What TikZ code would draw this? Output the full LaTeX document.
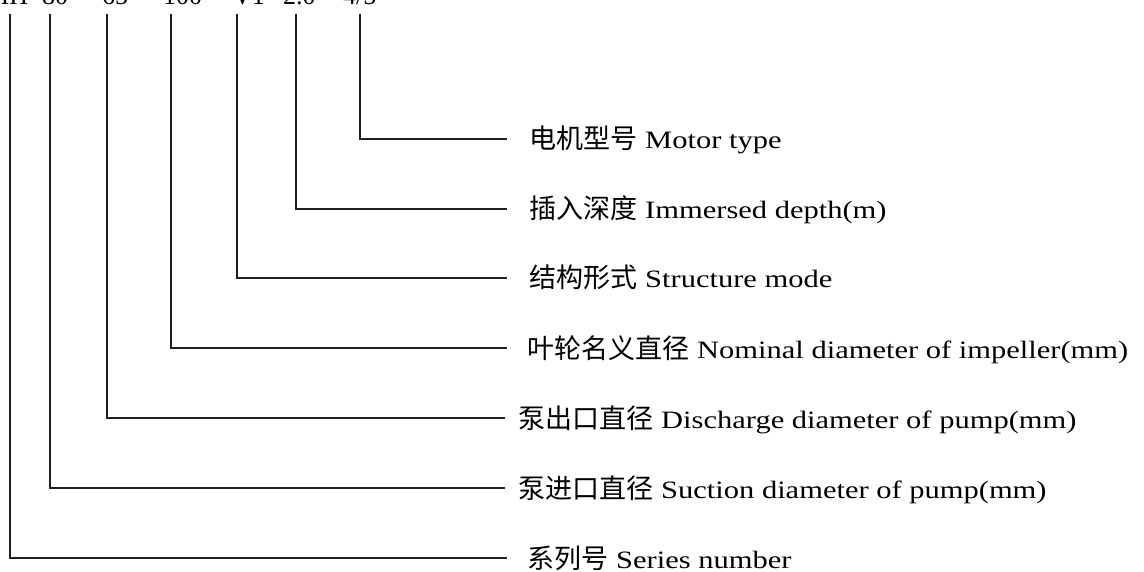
\documentclass[tikz,border=0pt]{standalone}
\usepackage{fontspec}
\setmainfont{Liberation Serif}
\newfontfamily\cjk{Noto Sans CJK SC}
\newfontfamily\lat[FakeStretch=1.22]{Liberation Serif}
\newcommand{\mylab}[2]{{\cjk\fontsize{27}{30}\selectfont #1}\hspace{8pt}{\lat\fontsize{25}{30}\selectfont #2}}
\tikzset{
  lbl/.style={anchor=base west, inner sep=0pt, text=black},
  tok/.style={anchor=base west, inner sep=0pt, font=\fontsize{26}{26}\selectfont},
  lead/.style={line width=2.1pt, draw=black!88}
}
\begin{document}
\begin{tikzpicture}[x=1pt,y=1pt]
\useasboundingbox (0,0) rectangle (1144,-572);
\begin{scope}
\clip (0,0) rectangle (1144,-572);
% top designation tokens
\node[tok] (k1) at (-14,-5) {MH};
\node[tok] (k2) at (42,-5) {80};
\node[tok] (k3) at (102,-5) {65};
\node[tok] (k4) at (163,-5) {100};
\node[tok] (k5) at (233,-5) {V1};
\node[tok] (k6) at (283,-5) {2.0};
\node[tok] (k7) at (343,-5) {4/5};
\end{scope}
% top ends of leaders
\coordinate (t1) at (10,-14);
\coordinate (t2) at (50,-14);
\coordinate (t3) at (107,-14);
\coordinate (t4) at (171,-14);
\coordinate (t5) at (237,-14);
\coordinate (t6) at (296,-14);
\coordinate (t7) at (360,-14);
% right ends of leaders
\coordinate (e7) at (507,-139);
\coordinate (e6) at (507,-209);
\coordinate (e5) at (507,-278);
\coordinate (e4) at (507,-348);
\coordinate (e3) at (505,-418);
\coordinate (e2) at (505,-488);
\coordinate (e1) at (507,-558);
% labels
\node[lbl] (l7) at (529,-149) {\mylab{电机型号}{Motor type}};
\node[lbl] (l6) at (529,-219) {\mylab{插入深度}{Immersed depth(m)}};
\node[lbl] (l5) at (529,-288) {\mylab{结构形式}{Structure mode}};
\node[lbl] (l4) at (527,-358) {\mylab{叶轮名义直径}{Nominal diameter of impeller(mm)}};
\node[lbl] (l3) at (518,-428) {\mylab{泵出口直径}{Discharge diameter of pump(mm)}};
\node[lbl] (l2) at (518,-498) {\mylab{泵进口直径}{Suction diameter of pump(mm)}};
\node[lbl] (l1) at (527,-568) {\mylab{系列号}{Series number}};
% leaders
\draw[lead] (t1) |- (e1);
\draw[lead] (t2) |- (e2);
\draw[lead] (t3) |- (e3);
\draw[lead] (t4) |- (e4);
\draw[lead] (t5) |- (e5);
\draw[lead] (t6) |- (e6);
\draw[lead] (t7) |- (e7);
\end{tikzpicture}
\end{document}
